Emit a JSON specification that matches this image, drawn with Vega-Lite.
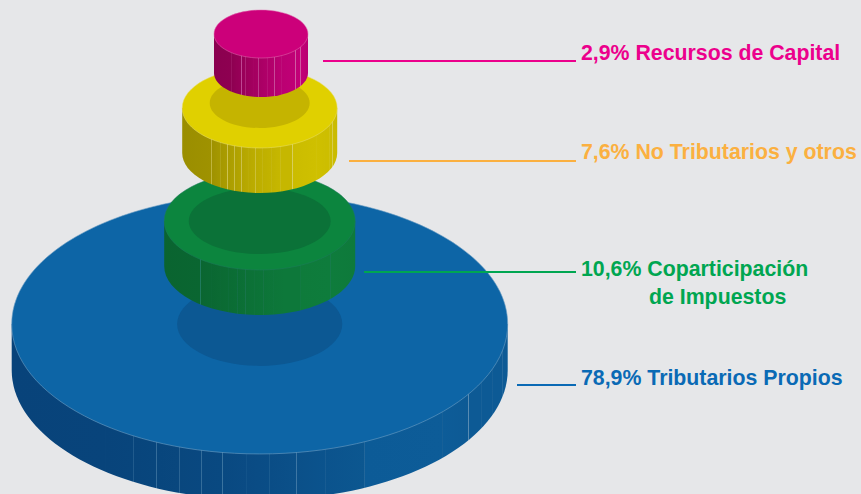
{
"$schema":"https://vega.github.io/schema/vega-lite/v6.json",
"width":861,"height":494,"padding":0,"autosize":{"type":"none"},
"background":"#e6e7e9",
"config":{"view":{"stroke":null}},
"datasets":{
"ingresos":[
{"categoria":"Tributarios Propios","porcentaje":78.9},
{"categoria":"Coparticipación de Impuestos","porcentaje":10.6},
{"categoria":"No Tributarios y otros","porcentaje":7.6},
{"categoria":"Recursos de Capital","porcentaje":2.9}],
"etiquetas":[
{"orden":1,"categoria":"Recursos de Capital","texto":"2,9% Recursos de Capital"},
{"orden":2,"categoria":"No Tributarios y otros","texto":"7,6% No Tributarios y otros"},
{"orden":3,"categoria":"Coparticipación de Impuestos","texto":"10,6% Coparticipación"},
{"orden":4,"categoria":"Coparticipación de Impuestos","texto":"de Impuestos"},
{"orden":5,"categoria":"Tributarios Propios","texto":"78,9% Tributarios Propios"}]
},
"resolve":{"scale":{"x":"independent","y":"independent"}},
"layer":[
{"data":{"name":"ingresos"},
"encoding":{
"x":{"field":"porcentaje","type":"quantitative","axis":null,"scale":{"domain":[2.9,7.6,78.9],"range":[261,259.7,259.7]}},
"y":{"field":"porcentaje","type":"quantitative","axis":null,"scale":{"domain":[2.9,7.6,10.6,78.9],"range":[34,108,221,324]}},
"size":{"field":"porcentaje","type":"quantitative","legend":null,"scale":{"domain":[2.9,7.6,10.6,78.9],"range":[8836,24025,36481,246016]}}
},
"layer":[
{"transform":[{"filter":"datum.porcentaje==78.9"}],"mark":{"type":"point","filled":true,"opacity":1,"strokeWidth":0,"shape":"M-1,0L-1,0.185A1,0.524 0 0 0 1,0.185L1,0Z","fill":{"gradient":"linear","x1":0,"y1":0,"x2":1,"y2":0,"stops":[
{"offset":0,"color":"#08437a"},
{"offset":0.189,"color":"#08447b"},{"offset":0.19,"color":"#114c81"},{"offset":0.191,"color":"#08447b"},
{"offset":0.244,"color":"#08457c"},{"offset":0.245,"color":"#3f76a2"},{"offset":0.246,"color":"#08457c"},
{"offset":0.291,"color":"#08467d"},{"offset":0.292,"color":"#386f9c"},{"offset":0.293,"color":"#08467d"},
{"offset":0.337,"color":"#09477e"},{"offset":0.338,"color":"#386f9c"},{"offset":0.339,"color":"#09477e"},
{"offset":0.382,"color":"#094880"},{"offset":0.383,"color":"#4a7fa8"},{"offset":0.384,"color":"#094880"},
{"offset":0.424,"color":"#094981"},{"offset":0.425,"color":"#3a739f"},{"offset":0.426,"color":"#094981"},
{"offset":0.473,"color":"#0a4b84"},{"offset":0.474,"color":"#1f5f92"},{"offset":0.475,"color":"#0a4b84"},
{"offset":0.519,"color":"#0a4d86"},{"offset":0.52,"color":"#1f5f92"},{"offset":0.521,"color":"#0a4d86"},
{"offset":0.573,"color":"#0b5089"},{"offset":0.574,"color":"#4a80ab"},{"offset":0.575,"color":"#0b5089"},
{"offset":0.631,"color":"#0b538d"},{"offset":0.632,"color":"#2f6c9c"},{"offset":0.633,"color":"#0b538d"},
{"offset":0.711,"color":"#0c5790"},{"offset":0.712,"color":"#5a8db4"},{"offset":0.713,"color":"#0c5b97"},
{"offset":0.868,"color":"#0d5c98"},{"offset":0.869,"color":"#1f6498"},{"offset":0.87,"color":"#0d5c98"},
{"offset":0.92,"color":"#0d5a95"},{"offset":0.921,"color":"#5a8db4"},{"offset":0.922,"color":"#0d5a95"},
{"offset":0.947,"color":"#0d5a95"},{"offset":0.948,"color":"#4a80ab"},{"offset":0.949,"color":"#0d5a95"},
{"offset":0.969,"color":"#0d5a95"},{"offset":0.97,"color":"#2a6a9c"},{"offset":0.971,"color":"#0d5a95"},
{"offset":0.989,"color":"#0d5a95"},{"offset":0.99,"color":"#3a76a5"},{"offset":0.991,"color":"#0d5a95"},
{"offset":1,"color":"#0d5a95"}]}}},
{"transform":[{"filter":"datum.porcentaje==78.9"}],"mark":{"type":"point","filled":true,"opacity":1,"fill":"#0d65a6","stroke":"#6f9fc4","strokeWidth":0.6,"shape":"M-1,0A1,0.524 0 1 1 1,0A1,0.524 0 1 1 -1,0Z"}},
{"transform":[{"filter":"datum.porcentaje==78.9"}],"mark":{"type":"point","filled":true,"opacity":1,"fill":"#0c5893","strokeWidth":0,"shape":"M-0.333,0A0.333,0.169 0 1 1 0.333,0A0.333,0.169 0 1 1 -0.333,0Z"}},

{"transform":[{"filter":"datum.porcentaje==10.6"}],"mark":{"type":"point","filled":true,"opacity":1,"strokeWidth":0,"shape":"M-1,0L-1,0.471A1,0.513 0 0 0 1,0.471L1,0Z","fill":{"gradient":"linear","x1":0,"y1":0,"x2":1,"y2":0,"stops":[
{"offset":0,"color":"#0a6430"},
{"offset":0.188,"color":"#0a6631"},{"offset":0.19,"color":"#1f7a5e"},{"offset":0.193,"color":"#0a6631"},
{"offset":0.243,"color":"#0a6832"},{"offset":0.245,"color":"#157048"},{"offset":0.248,"color":"#0a6832"},
{"offset":0.29,"color":"#0b6a33"},{"offset":0.292,"color":"#157048"},{"offset":0.295,"color":"#0b6a33"},
{"offset":0.336,"color":"#0b6c34"},{"offset":0.338,"color":"#157048"},{"offset":0.341,"color":"#0b6c34"},
{"offset":0.381,"color":"#0b6e35"},{"offset":0.383,"color":"#157048"},{"offset":0.386,"color":"#0b6e35"},
{"offset":0.423,"color":"#0c7036"},{"offset":0.425,"color":"#1a7550"},{"offset":0.428,"color":"#0c7036"},
{"offset":0.472,"color":"#0c7237"},{"offset":0.474,"color":"#157544"},{"offset":0.477,"color":"#0c7237"},
{"offset":0.518,"color":"#0c7438"},{"offset":0.52,"color":"#157544"},{"offset":0.523,"color":"#0c7438"},
{"offset":0.572,"color":"#0d7639"},{"offset":0.574,"color":"#1a7a54"},{"offset":0.577,"color":"#0d7639"},
{"offset":0.63,"color":"#0d783a"},{"offset":0.632,"color":"#1a7a54"},{"offset":0.635,"color":"#0d783a"},
{"offset":0.71,"color":"#0d783a"},{"offset":0.712,"color":"#16794a"},{"offset":0.715,"color":"#0e7b3b"},
{"offset":0.867,"color":"#0e7c3c"},{"offset":0.869,"color":"#1f7a5e"},{"offset":0.872,"color":"#0e7c3c"},
{"offset":1,"color":"#0e7a3b"}]}}},
{"transform":[{"filter":"datum.porcentaje==10.6"}],"mark":{"type":"point","filled":true,"opacity":1,"fill":"#0c853e","stroke":"#1f7a5e","strokeWidth":0.5,"shape":"M-1,0A1,0.513 0 1 1 1,0A1,0.513 0 1 1 -1,0Z"}},
{"transform":[{"filter":"datum.porcentaje==10.6"}],"mark":{"type":"point","filled":true,"opacity":1,"fill":"#0b7238","strokeWidth":0,"shape":"M-0.743,0A0.743,0.346 0 1 1 0.743,0A0.743,0.346 0 1 1 -0.743,0Z"}},

{"transform":[{"filter":"datum.porcentaje==7.6"}],"mark":{"type":"point","filled":true,"opacity":1,"strokeWidth":0,"shape":"M-1,0L-1,0.581A1,0.516 0 0 0 1,0.581L1,0Z","fill":{"gradient":"linear","x1":0,"y1":0,"x2":1,"y2":0,"stops":[
{"offset":0,"color":"#9a8e00"},
{"offset":0.187,"color":"#9f9200"},{"offset":0.19,"color":"#cfc558"},{"offset":0.193,"color":"#9f9200"},
{"offset":0.242,"color":"#a59800"},{"offset":0.245,"color":"#c6bc48"},{"offset":0.248,"color":"#a59800"},
{"offset":0.289,"color":"#aa9c00"},{"offset":0.292,"color":"#cfc558"},{"offset":0.295,"color":"#aa9c00"},
{"offset":0.335,"color":"#afa100"},{"offset":0.338,"color":"#cfc558"},{"offset":0.341,"color":"#afa100"},
{"offset":0.38,"color":"#b4a500"},{"offset":0.383,"color":"#cfc558"},{"offset":0.386,"color":"#b4a500"},
{"offset":0.422,"color":"#b8a900"},{"offset":0.425,"color":"#d2c858"},{"offset":0.428,"color":"#b8a900"},
{"offset":0.471,"color":"#bcad00"},{"offset":0.474,"color":"#d4ca58"},{"offset":0.477,"color":"#bcad00"},
{"offset":0.517,"color":"#bfb000"},{"offset":0.52,"color":"#cabf30"},{"offset":0.523,"color":"#bfb000"},
{"offset":0.571,"color":"#c2b300"},{"offset":0.574,"color":"#cabf30"},{"offset":0.577,"color":"#c2b300"},
{"offset":0.629,"color":"#c6b700"},{"offset":0.632,"color":"#d4ca58"},{"offset":0.635,"color":"#c6b700"},
{"offset":0.709,"color":"#c6b700"},{"offset":0.712,"color":"#dad268"},{"offset":0.715,"color":"#cbbc00"},
{"offset":0.866,"color":"#cfc000"},{"offset":0.869,"color":"#d6c930"},{"offset":0.872,"color":"#cfc000"},
{"offset":0.918,"color":"#cdbe00"},{"offset":0.921,"color":"#d8ce58"},{"offset":0.924,"color":"#cdbe00"},
{"offset":0.945,"color":"#cdbe00"},{"offset":0.948,"color":"#d8ce58"},{"offset":0.951,"color":"#cdbe00"},
{"offset":0.967,"color":"#cbbc00"},{"offset":0.97,"color":"#d8ce58"},{"offset":0.973,"color":"#cbbc00"},
{"offset":1,"color":"#c9ba00"}]}}},
{"transform":[{"filter":"datum.porcentaje==7.6"}],"mark":{"type":"point","filled":true,"opacity":1,"fill":"#e0d000","stroke":"#e8df70","strokeWidth":0.5,"shape":"M-1,0A1,0.516 0 1 1 1,0A1,0.516 0 1 1 -1,0Z"}},
{"transform":[{"filter":"datum.porcentaje==7.6"}],"mark":{"type":"point","filled":true,"opacity":1,"fill":"#c5b400","strokeWidth":0,"shape":"M-0.645,-0.065A0.645,0.323 0 1 1 0.645,-0.065A0.645,0.323 0 1 1 -0.645,-0.065Z"}},

{"transform":[{"filter":"datum.porcentaje==2.9"}],"mark":{"type":"point","filled":true,"opacity":1,"strokeWidth":0,"shape":"M-1,0L-1,0.83A1,0.511 0 0 0 1,0.83L1,0Z","fill":{"gradient":"linear","x1":0,"y1":0,"x2":1,"y2":0,"stops":[
{"offset":0,"color":"#8a004f"},
{"offset":0.185,"color":"#8e0051"},{"offset":0.19,"color":"#bd4a90"},{"offset":0.195,"color":"#8e0051"},
{"offset":0.24,"color":"#940055"},{"offset":0.245,"color":"#b53c86"},{"offset":0.25,"color":"#940055"},
{"offset":0.287,"color":"#980058"},{"offset":0.292,"color":"#c4509a"},{"offset":0.297,"color":"#980058"},
{"offset":0.333,"color":"#9c005a"},{"offset":0.338,"color":"#c4509a"},{"offset":0.343,"color":"#9c005a"},
{"offset":0.378,"color":"#a0005d"},{"offset":0.383,"color":"#c4509a"},{"offset":0.388,"color":"#a0005d"},
{"offset":0.42,"color":"#a40060"},{"offset":0.425,"color":"#bf4490"},{"offset":0.43,"color":"#a40060"},
{"offset":0.469,"color":"#a80063"},{"offset":0.474,"color":"#bf4490"},{"offset":0.479,"color":"#a80063"},
{"offset":0.568,"color":"#b00069"},{"offset":0.573,"color":"#c9509c"},{"offset":0.578,"color":"#b00069"},
{"offset":0.639,"color":"#b5006d"},{"offset":0.644,"color":"#c9509c"},{"offset":0.649,"color":"#b5006d"},
{"offset":0.709,"color":"#bb0072"},{"offset":0.714,"color":"#c9509c"},{"offset":0.719,"color":"#bb0072"},
{"offset":0.862,"color":"#c00076"},{"offset":0.867,"color":"#d05aa2"},{"offset":0.872,"color":"#c00076"},
{"offset":0.915,"color":"#c30078"},{"offset":0.92,"color":"#d05aa2"},{"offset":0.925,"color":"#c30078"},
{"offset":1,"color":"#b80070"}]}}},
{"transform":[{"filter":"datum.porcentaje==2.9"}],"mark":{"type":"point","filled":true,"opacity":1,"fill":"#cc007a","stroke":"#e070b0","strokeWidth":0.5,"shape":"M-1,0A1,0.511 0 1 1 1,0A1,0.511 0 1 1 -1,0Z"}}
]},
{"data":{"name":"ingresos"},
"mark":{"type":"rule","strokeWidth":2},
"encoding":{
"x":{"field":"porcentaje","type":"quantitative","axis":null,"scale":{"domain":[2.9,7.6,10.6,78.9],"range":[323,349,364,517]}},
"x2":{"value":576},
"y":{"field":"porcentaje","type":"quantitative","axis":null,"scale":{"domain":[2.9,7.6,10.6,78.9],"range":[61,161,272,385]}},
"color":{"field":"categoria","type":"nominal","legend":null,"scale":{"domain":["Recursos de Capital","No Tributarios y otros","Coparticipación de Impuestos","Tributarios Propios"],"range":["#ec008c","#fbb040","#00a651","#0a6ab5"]}}
}},
{"data":{"name":"etiquetas"},
"mark":{"type":"text","align":"left","baseline":"middle","font":"Liberation Sans","fontWeight":"bold","fontSize":21.3},
"encoding":{
"x":{"field":"orden","type":"quantitative","axis":null,"scale":{"domain":[1,2,3,4,5],"range":[581,581,581,649,581]}},
"y":{"field":"orden","type":"quantitative","axis":null,"scale":{"domain":[1,2,3,4,5],"range":[54,153,270,298,379]}},
"text":{"field":"texto"},
"color":{"field":"categoria","type":"nominal","legend":null}
}}
]
}
